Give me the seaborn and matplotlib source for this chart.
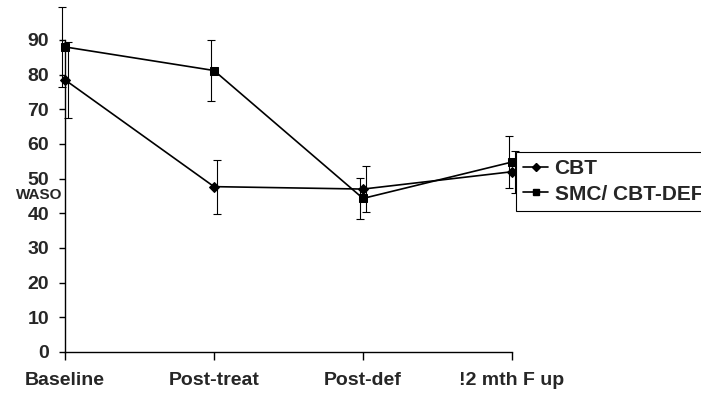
import matplotlib
matplotlib.use("Agg")
import matplotlib.pyplot as plt
import seaborn as sns
import pandas as pd
from matplotlib.lines import Line2D

# Wake after sleep onset (minutes) across assessment points
stages = ["Baseline", "Post-treat", "Post-def", "!2 mth F up"]
cbt_mean = [78.5, 47.7, 47.0, 52.0]
cbt_err = [11.0, 7.8, 6.6, 6.0]
smc_mean = [88.0, 81.2, 44.3, 54.8]
smc_err = [11.5, 8.7, 5.8, 7.5]
groups = ["CBT", "SMC/ CBT-DEF"]
y_ticks = [0, 10, 20, 30, 40, 50, 60, 70, 80, 90]

sns.set_style("white")
plt.rcParams["font.family"] = ["Liberation Sans", "DejaVu Sans"]
plt.rcParams["font.weight"] = "bold"

df = pd.DataFrame({
    "pos": list(range(len(stages))) * 2,
    "waso": cbt_mean + smc_mean,
    "err": cbt_err + smc_err,
    "group": [groups[0]] * len(stages) + [groups[1]] * len(stages),
})

fig = plt.figure(figsize=(7.01, 3.93), dpi=100)
ax = fig.add_axes([65 / 701, 1 - 352 / 393, (512 - 65) / 701, (352 - 40) / 393])

markers = {groups[0]: "D", groups[1]: "s"}
sizes = {groups[0]: 5, groups[1]: 6}
offsets = {groups[0]: 0.02, groups[1]: -0.02}

for g in groups:
    sub = df[df["group"] == g]
    sns.lineplot(data=sub, x="pos", y="waso", ax=ax, color="black",
                 marker=markers[g], markersize=sizes[g], markeredgecolor="black",
                 linewidth=1.2, legend=False, clip_on=False, zorder=3)
    ax.errorbar(sub["pos"] + offsets[g], sub["waso"], yerr=sub["err"],
                fmt="none", ecolor="black", elinewidth=0.8, capsize=3,
                capthick=0.8, clip_on=False, zorder=2)

ax.set_xlim(0, 3)
ax.set_ylim(0, 90)
ax.set_xticks(range(len(stages)))
ax.set_xticklabels(stages)
ax.set_yticks(y_ticks)
ax.set_xlabel("")
ax.set_ylabel("")
sns.despine(ax=ax)
for s in ("left", "bottom"):
    ax.spines[s].set_color("black")
    ax.spines[s].set_linewidth(1.0)
ax.tick_params(axis="y", which="major", direction="out", length=4.5, width=1,
               pad=7, labelsize=14, color="black", left=True)
ax.tick_params(axis="x", which="major", direction="out", length=5.5, width=1,
               pad=9, labelsize=14, color="black", bottom=True)
for lab in ax.get_xticklabels() + ax.get_yticklabels():
    lab.set_fontweight("bold")

fig.text(62 / 701, 1 - 195 / 393, "WASO", ha="right", va="center",
         fontsize=11, fontweight="bold")

handles = [Line2D([], [], color="black", marker=markers[g],
                  markersize=4 if g == groups[0] else 5, linewidth=1.2)
           for g in groups]
leg = fig.legend(handles, groups, loc="upper left",
                 bbox_to_anchor=(516 / 701, 1 - 152 / 393),
                 bbox_transform=fig.transFigure, borderaxespad=0,
                 frameon=True, fancybox=False, framealpha=1,
                 edgecolor="black", handlelength=1.2, handletextpad=0.3,
                 labelspacing=0.3, borderpad=0.35,
                 prop={"size": 15, "weight": "bold"})
leg.get_frame().set_linewidth(0.8)

fig.savefig("out.png", dpi=100)
